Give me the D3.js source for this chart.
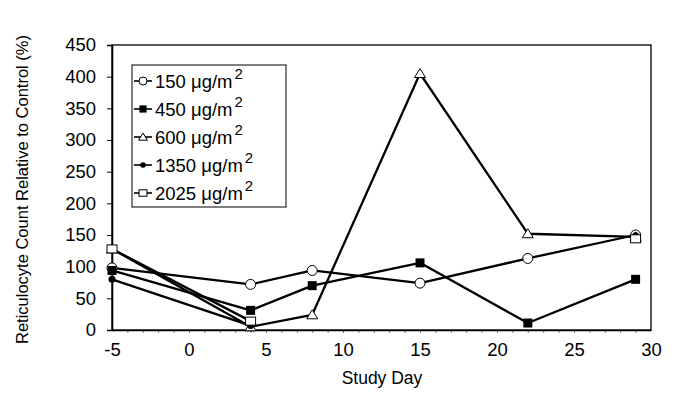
<!DOCTYPE html>
<html><head><meta charset="utf-8">
<script src="https://cdn.jsdelivr.net/npm/d3@7"></script>
<style>body{margin:0;background:#fff}text{font-family:"Liberation Sans",Arial,sans-serif;fill:#000}</style>
</head><body><svg id="c" width="677" height="402"></svg>
<script>
const days = [-5, 4, 8, 15, 22, 29];
const s150 = [98, 72, 94, 74, 113, 150];
const s450 = [94, 31, 70, 106, 11, 80];
const s600 = [128, 5, 24, 405, 152, 147];
const s1350 = [80, 7, null, null, null, 149];
const s2025 = [128, 14, null, null, null, 144];
const seriesNames = ["150 μg/m", "450 μg/m", "600 μg/m", "1350 μg/m", "2025 μg/m"];
const seriesMarkers = ["circle", "fsquare", "triangle", "dot", "osquare"];
const xTicks = [-5, 0, 5, 10, 15, 20, 25, 30];
const yTicks = [0, 50, 100, 150, 200, 250, 300, 350, 400, 450];

const series = [s150, s450, s600, s1350, s2025].map((v, i) => ({
  name: seriesNames[i], marker: seriesMarkers[i],
  pts: days.map((d, j) => ({x: d, y: v[j]}))
}));

const svg = d3.select("#c");
const L = 112, R = 651, T = 45, B = 330;
const x = d3.scaleLinear().domain([-5, 30]).range([L, R]);
const y = d3.scaleLinear().domain([0, 450]).range([B, T]);

svg.append("rect").attr("x", L).attr("y", T).attr("width", R - L).attr("height", B - T)
  .attr("fill", "none").attr("stroke", "#000").attr("stroke-width", 1.3);

const gxm = svg.append("g").attr("transform", `translate(0,${B})`)
  .call(d3.axisBottom(x).tickValues(d3.range(-4, 30, 1)).tickSize(3).tickFormat(""));
gxm.select(".domain").remove();
gxm.selectAll("line").attr("stroke", "#555").attr("stroke-width", 0.8);

const gx = svg.append("g").attr("transform", `translate(0,${B})`)
  .call(d3.axisBottom(x).tickValues(xTicks).tickSize(0).tickPadding(13).tickFormat(d => String(d)));
gx.select(".domain").attr("stroke", "#000").attr("stroke-width", 1.6);
gx.selectAll("text").attr("font-size", 18.5).attr("font-family", "Liberation Sans, Arial, sans-serif").attr("fill", "#000");

const gy = svg.append("g").attr("transform", `translate(${L},0)`)
  .call(d3.axisLeft(y).tickValues(yTicks).tickSize(5).tickPadding(11).tickFormat(d => String(d)));
gy.select(".domain").attr("stroke", "#000").attr("stroke-width", 1.6);
gy.selectAll("line").attr("stroke", "#000").attr("stroke-width", 1);
gy.selectAll("text").attr("font-size", 18.5).attr("font-family", "Liberation Sans, Arial, sans-serif").attr("fill", "#000");

svg.append("text").attr("x", 382).attr("y", 384).attr("text-anchor", "middle")
  .attr("font-size", 17.5).text("Study Day");
svg.append("text").attr("transform", `translate(28,${(T + B) / 2 + 2}) rotate(-90)`)
  .attr("text-anchor", "middle").attr("font-size", 16.5)
  .text("Reticulocyte Count Relative to Control (%)");

const line = d3.line().defined(d => d.y != null).x(d => x(d.x)).y(d => y(d.y));

function drawMarker(g, type, cx, cy, k) {
  k = k || 1;
  if (type === "circle") g.append("circle").attr("cx", cx).attr("cy", cy).attr("r", 5 * k)
    .attr("fill", "#fff").attr("stroke", "#000").attr("stroke-width", 1);
  else if (type === "fsquare") g.append("rect").attr("x", cx - 4.5 * k).attr("y", cy - 4.5 * k)
    .attr("width", 9 * k).attr("height", 9 * k).attr("fill", "#000");
  else if (type === "triangle") g.append("path")
    .attr("d", `M${cx},${cy - 5 * k}L${cx + 5.5 * k},${cy + 4 * k}L${cx - 5.5 * k},${cy + 4 * k}Z`)
    .attr("fill", "#fff").attr("stroke", "#000").attr("stroke-width", 1);
  else if (type === "dot") g.append("circle").attr("cx", cx).attr("cy", cy).attr("r", 3.5 * k).attr("fill", "#000");
  else if (type === "osquare") g.append("rect").attr("x", cx - 5 * k).attr("y", cy - 4 * k)
    .attr("width", 10 * k).attr("height", 8 * k).attr("fill", "#fff").attr("stroke", "#000").attr("stroke-width", 1);
}

series.forEach(s => {
  svg.append("path").datum(s.pts).attr("d", line).attr("fill", "none")
    .attr("stroke", "#000").attr("stroke-width", 2.3).attr("stroke-linejoin", "round");
});
series.forEach(s => {
  const g = svg.append("g");
  s.pts.filter(d => d.y != null).forEach(d => drawMarker(g, s.marker, x(d.x), y(d.y)));
});

const lg = svg.append("g");
lg.append("rect").attr("x", 132).attr("y", 65).attr("width", 154).attr("height", 142)
  .attr("fill", "#fff").attr("stroke", "#000").attr("stroke-width", 1);
series.forEach((s, i) => {
  const cy = 81 + i * 28;
  lg.append("line").attr("x1", 134).attr("x2", 152).attr("y1", cy).attr("y2", cy)
    .attr("stroke", "#000").attr("stroke-width", 1.6);
  drawMarker(lg, s.marker, 143, cy, 0.8);
  const t = lg.append("text").attr("x", 155).attr("y", cy + 6.5).attr("font-size", 18.5);
  t.append("tspan").text(s.name);
  t.append("tspan").attr("dy", -9).attr("dx", 2).attr("font-size", 15).text("2");
});
</script></body></html>
